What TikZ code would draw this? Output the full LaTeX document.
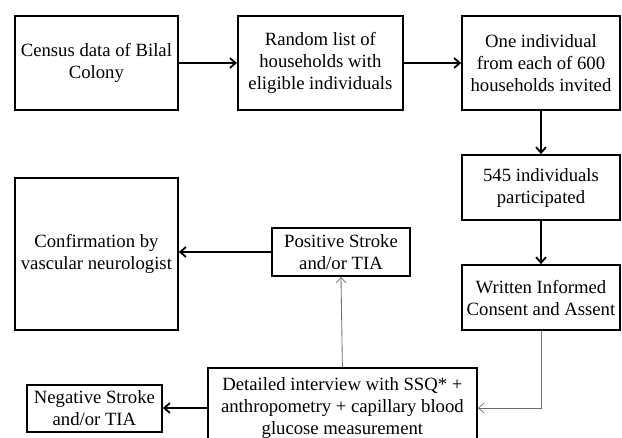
\documentclass[tikz,border=0pt]{standalone}
\usepackage{fontspec}
\setmainfont{Liberation Serif}
\usetikzlibrary{positioning,arrows.meta,calc}
\definecolor{fcGray}{RGB}{110,110,110}

\begin{document}
\begin{tikzpicture}[
  box/.style={draw, line width=1.2pt, align=center, inner sep=2pt,
    font=\fontsize{13.3}{15.6}\selectfont},
  mainflow/.style={-{Straight Barb[length=4pt,width=7pt]}, line width=1.3pt},
  sideflow/.style={-{Straight Barb[length=4pt,width=7pt,line width=0.5pt]}, fcGray, line width=0.6pt}
]
  \useasboundingbox (0,0) rectangle (15.55,-10.95);

  % Top row
  \node[box, minimum width=4.08cm, minimum height=2.35cm] (census) at (2.41,-1.575) {Census data of Bilal\\Colony};
  \node[box, minimum width=4.13cm, minimum height=2.35cm] (random) at (8.01,-1.575) {Random list of\\households with\\eligible individuals};
  \node[box, minimum width=3.95cm, minimum height=2.35cm] (invite) at (13.525,-1.575) {One individual\\from each of 600\\households invited};

  % Right column
  \node[box, minimum width=3.95cm, minimum height=1.63cm] (part) at (13.525,-4.69) {545 individuals\\participated};
  \node[box, minimum width=3.95cm, minimum height=1.63cm] (consent) at (13.525,-7.44) {Written Informed\\Consent and Assent};

  % Outcomes
  \node[box, minimum width=4.08cm, minimum height=3.8cm] (confirm) at (2.41,-6.35) {Confirmation by\\vascular neurologist};
  \node[box, minimum width=3.45cm, minimum height=1.2cm] (positive) at (8.525,-6.3) {Positive Stroke\\and/or TIA};
  \node[box, minimum width=6.73cm, minimum height=2.0cm] (interview) at (8.56,-10.2) {Detailed interview with SSQ* +\\anthropometry + capillary blood\\glucose measurement};
  \node[box, minimum width=3.38cm, minimum height=1.18cm] (negative) at (2.36,-10.21) {Negative Stroke\\and/or TIA};

  % Arrows
  \draw[mainflow] (census) -- (random);
  \draw[mainflow] (random) -- (invite);
  \draw[mainflow] (invite) -- (part);
  \draw[mainflow] (part) -- (consent);
  \draw[sideflow] (consent.south) |- (interview.east);
  \draw[sideflow] (interview.north) -- (positive.south);
  \draw[mainflow] (positive.west) -- (positive.west -| confirm.east);
  \draw[mainflow] (interview.west) -- (interview.west -| negative.east);
\end{tikzpicture}
\end{document}
